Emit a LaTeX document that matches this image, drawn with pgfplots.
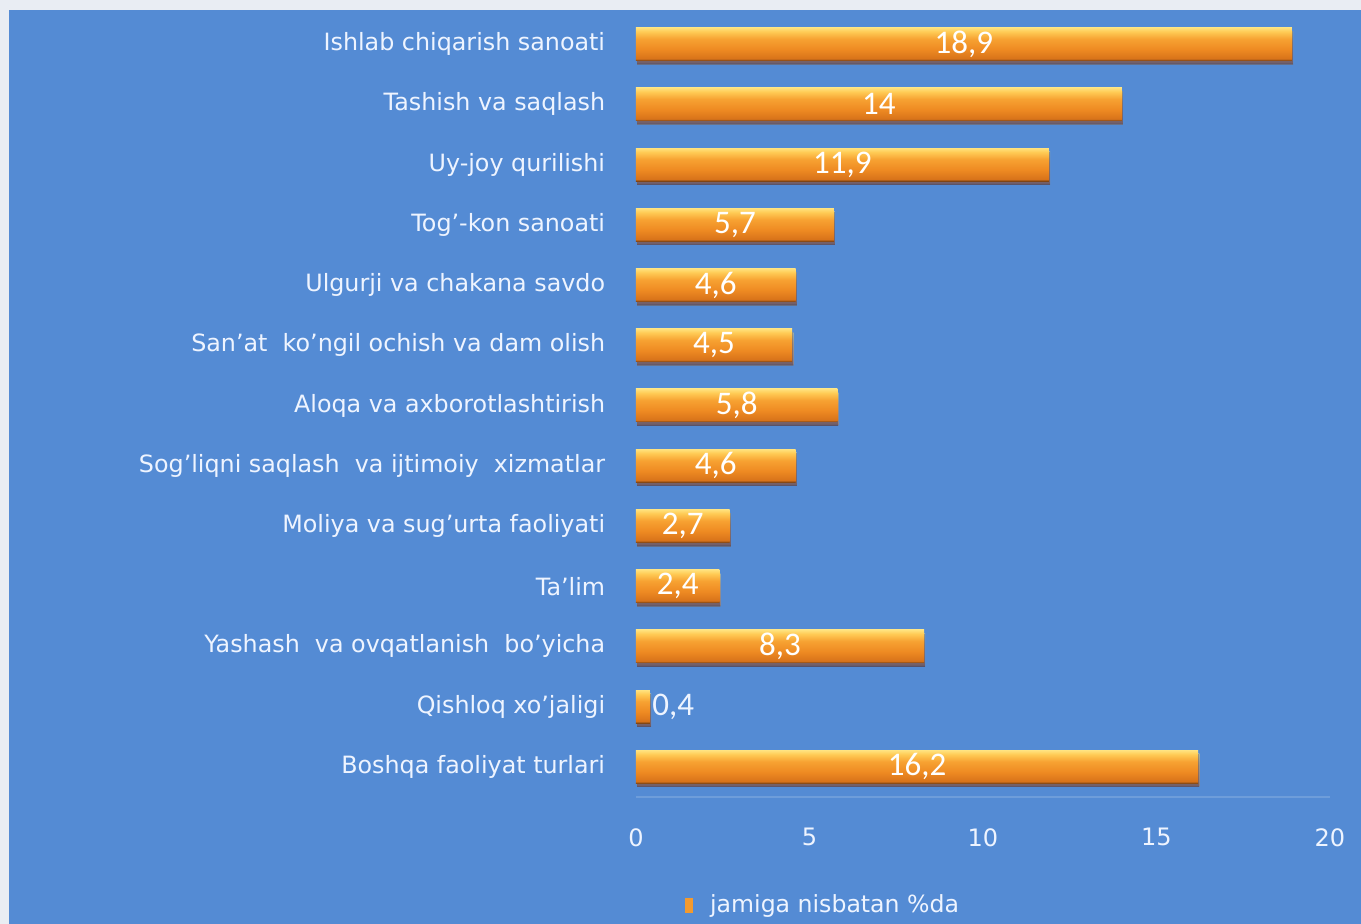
\documentclass[border=0pt]{standalone}
\usepackage{fontspec}
\setmainfont{DejaVu Sans}
\newfontfamily\valfont{Carlito}
\usepackage{pgfplots}
\pgfplotsset{compat=1.18}

\definecolor{outerbg}{HTML}{E9EDF3}
\definecolor{panel}{HTML}{548BD4}
\definecolor{labeltxt}{HTML}{EEF4FF}
\definecolor{axlinec}{HTML}{6E9DDA}
\definecolor{bdark}{HTML}{7A4214}
\definecolor{bor1}{HTML}{D8731A}
\definecolor{bor2}{HTML}{EE8A22}
\definecolor{bor3}{HTML}{F7A232}
\definecolor{byel}{HTML}{FFCB55}
\definecolor{byel2}{HTML}{FFE27E}
\definecolor{legor}{HTML}{F39A2E}

\pgfdeclareverticalshading{barshade}{100bp}{%
  color(0bp)=(bdark); color(25bp)=(bdark); color(28bp)=(bor1);
  color(42bp)=(bor2); color(58bp)=(bor3); color(69bp)=(byel);
  color(75bp)=(byel2); color(100bp)=(byel2)}

\pgfplotsset{
  barbase/.style={draw=none, shading=barshade, bar shift=0pt, forget plot,
    preaction={fill=black!70!blue, fill opacity=0.4,
      transform canvas={yshift=-1.8pt, xshift=0.6pt}}},
  onebar/.style={barbase,
    visualization depends on={rawx \as \myx},
    every node near coord/.append style={anchor=center, xshift={-\myx*8.675pt}}},
}

\begin{document}
\begin{tikzpicture}
% page background and blue panel
\fill[outerbg] (-318pt,-63.5pt) rectangle (362.5pt,398.5pt);
\fill[panel] (-313.5pt,-63.5pt) rectangle (362.5pt,393.5pt);

\begin{axis}[
    scale only axis,
    width=347pt, height=391.5pt,
    xmin=0, xmax=20,
    ymin=-0.5, ymax=12.5,
    y dir=reverse,
    xbar, bar width=16.5pt,
    axis x line*=bottom,
    axis y line*=left,
    x axis line style={draw=axlinec, line width=0.6pt},
    y axis line style={draw=none},
    tick style={draw=none},
    xtick={0,5,10,15,20},
    ytick={0,...,12},
    yticklabels={
      Ishlab chiqarish sanoati,
      Tashish va saqlash,
      Uy-joy qurilishi,
      Tog'-kon sanoati,
      Ulgurji va chakana savdo,
      San'at\ \ ko'ngil ochish va dam olish,
      Aloqa va axborotlashtirish,
      Sog'liqni saqlash\ \ va ijtimoiy\ \ xizmatlar,
      Moliya va sug'urta faoliyati,
      Ta'lim,
      Yashash\ \ va ovqatlanish\ \ bo'yicha,
      Qishloq xo'jaligi,
      Boshqa faoliyat turlari},
    yticklabel style={font=\fontsize{11.9pt}{14pt}\selectfont, text=labeltxt,
      anchor=east, inner sep=0pt, xshift=-11pt},
    xticklabel style={font=\fontsize{12pt}{14pt}\selectfont, text=labeltxt,
      anchor=north, inner sep=0pt, yshift=-15.5pt},
    /pgf/number format/assume math mode=true,
    /pgf/number format/use comma,
    nodes near coords,
    nodes near coords style={font=\valfont\fontsize{16.5pt}{18pt}\selectfont,
      text=white, inner sep=1pt},
    legend style={at={(axis description cs:0.0706,-0.1379)}, anchor=west,
      draw=none, fill=none, inner sep=0pt, column sep=6.5pt,
      font=\fontsize{11.8pt}{14pt}\selectfont, text=labeltxt},
]
\addplot[onebar] coordinates {(18.9,0)};
\addplot[onebar] coordinates {(14,1)};
\addplot[onebar] coordinates {(11.9,2)};
\addplot[onebar] coordinates {(5.7,3)};
\addplot[onebar] coordinates {(4.6,4)};
\addplot[onebar] coordinates {(4.5,5)};
\addplot[onebar] coordinates {(5.8,6)};
\addplot[onebar] coordinates {(4.6,7)};
\addplot[onebar] coordinates {(2.7,8)};
\addplot[onebar] coordinates {(2.4,9)};
\addplot[onebar] coordinates {(8.3,10)};
\addplot[barbase, every node near coord/.append style={anchor=west, text=labeltxt}]
  coordinates {(0.4,11)};
\addplot[onebar] coordinates {(16.2,12)};
\addlegendimage{legend image code/.code={\fill[legor] (0pt,-3.5pt) rectangle (3.5pt,3.5pt);}}
\addlegendentry{jamiga nisbatan \%da}
\end{axis}

\pgfresetboundingbox
\path (-318pt,-63.5pt) rectangle (362.5pt,398.5pt);
\end{tikzpicture}
\end{document}
